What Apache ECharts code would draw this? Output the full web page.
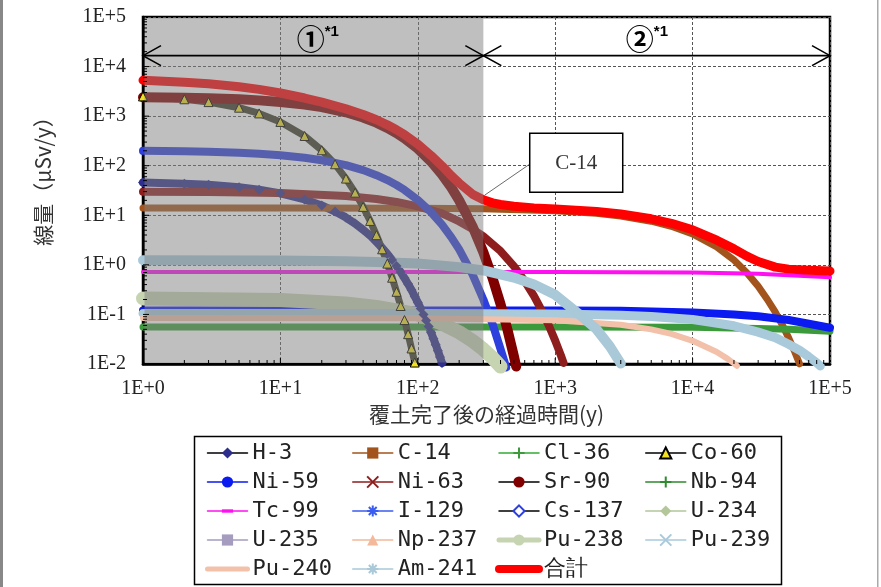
<!DOCTYPE html>
<html><head><meta charset="utf-8">
<script src="https://cdn.jsdelivr.net/npm/echarts/dist/echarts.min.js"></script>
<style>html,body{margin:0;padding:0;background:#fff}#c{width:881px;height:587px}</style>
</head><body><div id="c"></div>
<script>
// ---------------- data (years, µSv/y) ----------------
const H3 = [[1,46],[2,43.5],[3,41.1],[5,36.7],[7,32.8],[10,27.7],[15,20.9],[20,15.8],[25,11.9],[30,9.0],[35,6.8],[40,5.1],[45,3.9],[50,2.9],[55,2.2],[60,1.66],[65,1.25],[70,0.95],[75,0.72],[80,0.54],[85,0.41],[90,0.31],[95,0.23],[100,0.175],[105,0.132],[110,0.1],[115,0.075],[120,0.057],[125,0.043],[130,0.0325],[135,0.0245],[140,0.0185],[145,0.0139],[150,0.0105]];
const C14 = [[1,14],[10,14],[100,13.8],[300,13.5],[1000,12.4],[2000,11.0],[3000,9.7],[5000,7.6],[7000,6.0],[10000,4.2],[15000,2.3],[20000,1.25],[25000,0.68],[30000,0.37],[35000,0.2],[40000,0.111],[45000,0.061],[50000,0.0337],[55000,0.0185],[60000,0.0101]];
const Cl36 = [[1,0.056],[100,0.056],[1000,0.056],[10000,0.055],[30000,0.052],[50000,0.05],[100000,0.046]];
const Co60 = [[1,2500],[2,2190],[3,1920],[5,1480],[7,1135],[10,765],[15,398],[20,205],[25,107],[30,55],[35,28.6],[40,14.8],[45,7.7],[50,3.97],[55,2.06],[60,1.06],[65,0.55],[70,0.286],[75,0.148],[80,0.077],[85,0.04],[90,0.0206],[95,0.0107]];
const Ni59 = [[1,0.12],[100,0.12],[1000,0.12],[3000,0.118],[10000,0.11],[20000,0.1],[30000,0.092],[50000,0.077],[70000,0.065],[100000,0.054]];
const Ni63 = [[1,30],[3,29.4],[10,28.2],[30,24.4],[50,21.3],[70,18.6],[100,15.1],[150,10.9],[200,7.5],[250,5.3],[300,3.75],[400,1.9],[500,0.94],[600,0.47],[700,0.236],[800,0.118],[900,0.059],[1000,0.0297],[1100,0.0149],[1150,0.0105]];
const Sr90 = [[1,2400],[2,2343],[3,2288],[5,2180],[7,2080],[10,1932],[15,1714],[20,1519],[30,1194],[40,939],[50,738],[60,580],[70,456],[80,358],[100,221],[125,121],[150,66.5],[175,36.5],[200,20],[250,6.0],[300,1.8],[350,0.54],[400,0.162],[450,0.0485],[500,0.0145],[520,0.0089]];
const Nb94 = [[1,0.006],[1000,0.0058],[10000,0.0043],[100000,0.0002]];
const Tc99 = [[1,0.72],[100,0.72],[1000,0.72],[10000,0.7],[30000,0.66],[50000,0.62],[100000,0.56]];
const I129 = [[1,0.004],[100000,0.004]];
const Cs137 = [[1,200],[2,195.5],[3,191],[5,182],[7,174],[10,162],[15,145],[20,129],[30,102.6],[40,81.5],[50,64.5],[60,51.3],[70,40.8],[80,32.4],[100,20.4],[125,11.5],[150,6.5],[175,3.64],[200,2.05],[250,0.64],[300,0.2],[350,0.064],[400,0.02],[440,0.0085]];
const U234 = [[1,0.002],[100000,0.002]];
const U235 = [[1,0.001],[100000,0.001]];
const Np237 = [[1,0.001],[100000,0.0012]];
const Pu238 = [[1,0.21],[10,0.195],[30,0.166],[50,0.142],[75,0.116],[100,0.1],[150,0.065],[200,0.0437],[250,0.0293],[300,0.0198],[350,0.0133],[400,0.0089]];
const Pu239 = [[1,0.105],[100,0.105],[1000,0.102],[3000,0.096],[5000,0.091],[10000,0.079],[20000,0.059],[30000,0.044],[40000,0.034],[50000,0.025],[60000,0.019],[70000,0.014],[80000,0.0106],[85000,0.0091]];
const Pu240 = [[1,0.085],[100,0.084],[1000,0.076],[3000,0.062],[5000,0.05],[7000,0.0405],[10000,0.0294],[13000,0.021],[15000,0.0174],[18000,0.0127],[20000,0.0103],[21000,0.0092]];
const Am241 = [[1,1.24],[10,1.22],[30,1.18],[50,1.14],[100,1.06],[200,0.9],[300,0.77],[500,0.555],[700,0.404],[1000,0.249],[1500,0.1],[2000,0.05],[2500,0.0227],[3000,0.0102]];
const TOTAL = [[1,5300],[2,4817],[3,4485],[5,3923],[7,3465],[10,2930],[15,2321],[20,1911],[30,1400],[40,1079],[50,846],[60,669],[70,532],[80,424],[100,272],[125,160],[150,99],[175,63],[200,44.6],[250,26.7],[300,20.5],[350,17.8],[400,16.5],[500,15.2],[700,14.1],[1000,13.4],[2000,11.9],[3000,10.6],[5000,8.5],[7000,6.9],[10000,5.1],[15000,3.15],[20000,2.1],[25000,1.48],[30000,1.17],[40000,0.9],[50000,0.82],[70000,0.78],[100000,0.75]];

const X_MIN = 1, X_MAX = 100000, Y_MIN = 0.01, Y_MAX = 100000;
const SHADE_RANGE = [1, 300];                 // period ①
const PHASES = [[1, 300], [300, 100000]];      // arrow spans
const ARROW_Y = 16600;
const PHASE_LABELS = ['①', '②'];
const PHASE_LABEL_X = [16.6, 4130];
const PHASE_LABEL_Y = 35000;
const CALLOUT_TEXT = 'C-14';
const CALLOUT_AT = [307, 25.5];
const X_TITLE = '覆土完了後の経過時間(y)';
const Y_TITLE = '線量（μSv/y）';

const LEGEND_COLS = [
  ['H-3','Ni-59','Tc-99','U-235','Pu-240'],
  ['C-14','Ni-63','I-129','Np-237','Am-241'],
  ['Cl-36','Sr-90','Cs-137','Pu-238','合計'],
  ['Co-60','Nb-94','U-234','Pu-239']
];
const ORDER = ['H-3','C-14','Cl-36','Co-60','Ni-59','Ni-63','Sr-90','Nb-94','Tc-99','I-129','Cs-137','U-234','U-235','Np-237','Pu-238','Pu-239','Pu-240','Am-241','合計'];

// ---------------- styles ----------------
const PLUS  = 'path://M5,0L5,10M0,5L10,5';
const CROSS = 'path://M0,0L10,10M10,0L0,10';
const STAR  = 'path://M5,0L5,10M0,5L10,5M1.5,1.5L8.5,8.5M8.5,1.5L1.5,8.5';
const DASH  = 'path://M0,0M10,10M0,3.5L10,3.5L10,6.5L0,6.5Z';
const S = {
 'H-3':   {data:H3, color:'#2e2e8c', width:8, symbol:'diamond', size:10, showSymbol:true, legLine:'#000'},
 'C-14':  {data:C14, color:'#a3541c', width:7, symbol:'rect', size:8},
 'Cl-36': {data:Cl36, color:'#3c9a3c', width:7, symbol:PLUS, size:10, stroke:true, legLine:'#33aa33'},
 'Co-60': {data:Co60, color:'#3b3b28', width:7, symbol:'triangle', size:9, showSymbol:true, fill:'#f0e020', border:'#000', bw:1, legLine:'#000'},
 'Ni-59': {data:Ni59, color:'#0a1af0', width:8, symbol:'circle', size:10},
 'Ni-63': {data:Ni63, color:'#8e1e1e', width:8, symbol:CROSS, size:9, stroke:true},
 'Sr-90': {data:Sr90, color:'#800000', width:10, symbol:'circle', size:10, legLine:'#000'},
 'Nb-94': {data:Nb94, color:'#2e8b2e', width:2, symbol:PLUS, size:8, stroke:true, clip:true},
 'Tc-99': {data:Tc99, color:'#ff10f0', width:4, symbol:DASH, size:12},
 'I-129': {data:I129, color:'#3a5cf0', width:2, symbol:STAR, size:10, stroke:true, clip:true},
 'Cs-137':{data:Cs137, color:'#2d3fdc', width:8, symbol:'emptyDiamond', size:9, legLine:'#000'},
 'U-234': {data:U234, color:'#b3c79a', width:2, symbol:'diamond', size:8, clip:true},
 'U-235': {data:U235, color:'#a59cbf', width:2, symbol:'rect', size:10, clip:true},
 'Np-237':{data:Np237, color:'#f4b89a', width:2, symbol:'triangle', size:10, clip:true},
 'Pu-238':{data:Pu238, color:'#c6d4b2', width:14, symbol:'circle', size:13, legW:5},
 'Pu-239':{data:Pu239, color:'#a9cadb', width:9, symbol:CROSS, size:9, stroke:true},
 'Pu-240':{data:Pu240, color:'#f3c1a9', width:6, symbol:'none', legW:5, noIcon:true},
 'Am-241':{data:Am241, color:'#a9c9d9', width:10, symbol:STAR, size:10, stroke:true},
 '合計':  {data:TOTAL, color:'#ff0000', width:9, symbol:'none', legW:8, noIcon:true}
};

const TICKS_X = [], TICKS_Y = [];
for (let e = 0; e < 5; e++) for (let k = 1; k <= 9; k++) TICKS_X.push([k * Math.pow(10, e), Y_MIN, k === 1 ? 1 : 0]);
for (let e = -2; e < 5; e++) for (let k = 1; k <= 9; k++) TICKS_Y.push([X_MIN, k * Math.pow(10, e), k === 1 ? 1 : 0]);

const fmt = v => { const e = Math.round(Math.log10(v)); return '1E' + (e >= 0 ? '+' : '-') + Math.abs(e); };
const LBL = {fontFamily:'"Liberation Serif"', fontSize:20, color:'#222'};

const lineSeries = ORDER.map(n => {
  const o = S[n];
  return {
    type:'line', name:n, data:o.data, z:2,
    smooth:false, clip: !!o.clip,
    symbol:o.symbol, symbolSize:o.size || 8, showSymbol: !!o.showSymbol, showAllSymbol:true,
    lineStyle:{color:o.color, width:o.width, cap:'round', join:'round'},
    itemStyle:{color:o.fill || o.color, borderColor:o.border || o.color, borderWidth: o.stroke ? 1.6 : (o.bw || 0)},
    emphasis:{disabled:true}, silent:true, animation:false
  };
});

const extra = [
  { type:'custom', name:'_shade', z:3, silent:true, data:[[SHADE_RANGE[0], SHADE_RANGE[1], Y_MIN, Y_MAX]], encode:{x:[0,1], y:[2,3]},
    renderItem:(p, api) => {
      const a = api.coord([api.value(0), api.value(3)]), b = api.coord([api.value(1), api.value(2)]);
      return {type:'rect', shape:{x:a[0] + 1.5, y:a[1] + 1.5, width:b[0] - a[0] - 1.5, height:b[1] - a[1] - 3}, style:{fill:'rgba(128,128,128,0.5)'}};
    }},
  { type:'custom', name:'_tx', z:4, silent:true, data:TICKS_X, encode:{x:0, y:1},
    renderItem:(p, api) => { const c = api.coord([api.value(0), api.value(1)]); const L = api.value(2) ? 6 : 4;
      return {type:'line', shape:{x1:c[0], y1:c[1], x2:c[0], y2:c[1] - L}, style:{stroke:'#000', lineWidth:1}}; }},
  { type:'custom', name:'_ty', z:4, silent:true, data:TICKS_Y, encode:{x:0, y:1},
    renderItem:(p, api) => { const c = api.coord([api.value(0), api.value(1)]); const L = api.value(2) ? 6 : 4;
      return {type:'line', shape:{x1:c[0], y1:c[1], x2:c[0] + L, y2:c[1]}, style:{stroke:'#000', lineWidth:1}}; }},
  { type:'custom', name:'_arrows', z:5, silent:true, data:PHASES.map(p => [p[0], p[1], ARROW_Y]), encode:{x:[0,1], y:2},
    renderItem:(p, api) => {
      const a = api.coord([api.value(0), api.value(2)]), b = api.coord([api.value(1), api.value(2)]);
      const L = 18, H = 10, st = {stroke:'#000', lineWidth:1.6, fill:'none'};
      return {type:'group', children:[
        {type:'line', shape:{x1:a[0], y1:a[1], x2:b[0], y2:b[1]}, style:st},
        {type:'polyline', shape:{points:[[a[0]+L, a[1]-H], [a[0], a[1]], [a[0]+L, a[1]+H]]}, style:st},
        {type:'polyline', shape:{points:[[b[0]-L, b[1]-H], [b[0], b[1]], [b[0]-L, b[1]+H]]}, style:st}
      ]};
    }},
  { type:'custom', name:'_labels', z:5, silent:true, data:PHASE_LABEL_X.map((x, i) => [x, PHASE_LABEL_Y, i]), encode:{x:0, y:1},
    renderItem:(p, api) => {
      const c = api.coord([api.value(0), api.value(1)]);
      return {type:'group', children:[
        {type:'text', x:c[0], y:c[1], style:{text:PHASE_LABELS[api.value(2)], font:'bold 28px "Noto Sans CJK JP"', fill:'#000', align:'center', verticalAlign:'middle'}},
        {type:'text', x:c[0] + 14, y:c[1] - 8, style:{text:'*1', font:'bold 15px "Liberation Sans"', fill:'#000', align:'left', verticalAlign:'middle'}}
      ]};
    }},
  { type:'custom', name:'_callout', z:5, silent:true, data:[CALLOUT_AT], encode:{x:0, y:1},
    renderItem:(p, api) => {
      const c = api.coord([api.value(0), api.value(1)]);
      const bx = c[0] + 45, by = c[1] - 62, bw = 93, bh = 59;
      return {type:'group', children:[
        {type:'line', shape:{x1:c[0], y1:c[1], x2:bx, y2:by + 31}, style:{stroke:'#444', lineWidth:0.8}},
        {type:'rect', shape:{x:bx, y:by, width:bw, height:bh}, style:{fill:'#fff', stroke:'#000', lineWidth:1.5}},
        {type:'text', x:bx + bw/2, y:by + bh/2 + 1, style:{text:CALLOUT_TEXT, font:'21px "Liberation Serif"', fill:'#333', align:'center', verticalAlign:'middle'}}
      ]};
    }}
];

const LEGEND_LEFT = [205, 352, 495, 645];
const legends = LEGEND_COLS.map((col, i) => ({
  orient:'vertical', left:LEGEND_LEFT[i], top:442, padding:0,
  itemWidth:40, itemHeight:14, itemGap:7, selectedMode:false,
  textStyle:{fontFamily:'"DejaVu Sans Mono"', fontSize:22, lineHeight:22, color:'#222'},
  data: col.map(n => {
    const d = {name:n, lineStyle:{color:S[n].legLine || S[n].color, width:S[n].legW || 1.5, cap:'round'}};
    if (S[n].noIcon) d.itemStyle = {opacity:0};
    return d;
  })
}));

const chart = echarts.init(document.getElementById('c'));
chart.setOption({
  animation:false,
  backgroundColor:'#fff',
  grid:{left:143, right:51, top:17, bottom:223, show:true, borderColor:'#000', borderWidth:2.5, backgroundColor:'transparent'},
  xAxis:{type:'log', logBase:10, min:X_MIN, max:X_MAX, splitNumber:5,
    axisLine:{show:true, lineStyle:{color:'#000', width:2.5}}, axisTick:{show:false},
    axisLabel:Object.assign({formatter:fmt, margin:15}, LBL),
    splitLine:{show:true, lineStyle:{color:'#555', type:[3,2], width:1}},
    name:X_TITLE, nameLocation:'middle', nameGap:38,
    nameTextStyle:{fontFamily:'"Noto Sans CJK JP"', fontSize:21, color:'#333'}},
  yAxis:{type:'log', logBase:10, min:Y_MIN, max:Y_MAX, splitNumber:7,
    axisLine:{show:true, lineStyle:{color:'#000', width:2.5}}, axisTick:{show:false},
    axisLabel:Object.assign({formatter:fmt, margin:17}, LBL),
    splitLine:{show:true, lineStyle:{color:'#555', type:[3,2], width:1}}},
  legend:legends,
  graphic:[
    {type:'text', x:43, y:176, rotation:Math.PI/2, style:{text:Y_TITLE, font:'21px "Noto Sans CJK JP"', fill:'#333', align:'center', verticalAlign:'middle'}},
    {type:'rect', shape:{x:194.5, y:436.5, width:587, height:148}, style:{fill:'none', stroke:'#000', lineWidth:1.5}, z:-1},
    {type:'rect', shape:{x:0, y:0, width:3, height:587}, style:{fill:'#888'}},
    {type:'rect', shape:{x:877, y:0, width:1.5, height:587}, style:{fill:'#aaa'}}
  ],
  series: lineSeries.concat(extra)
});
</script></body></html>
